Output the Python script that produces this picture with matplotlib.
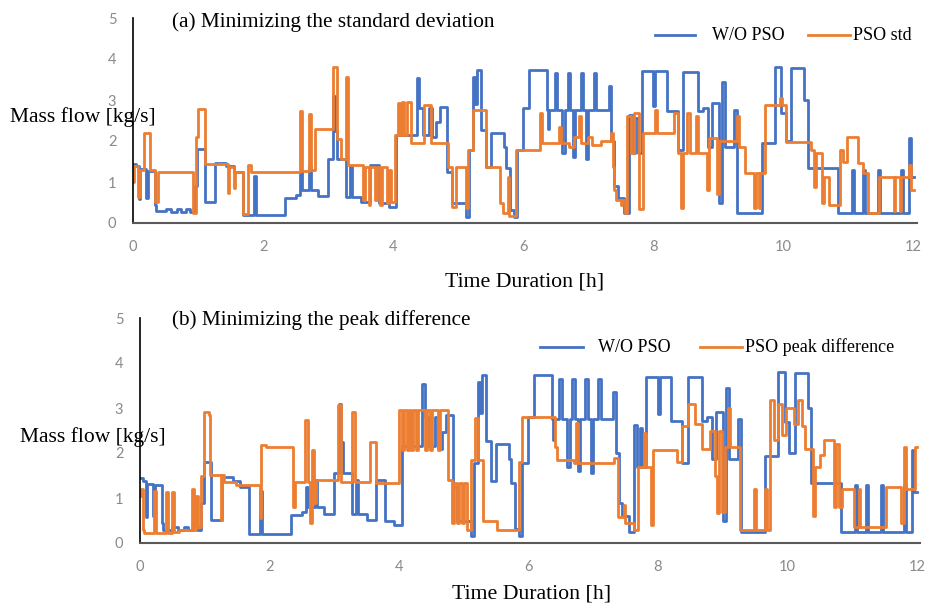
import matplotlib
matplotlib.use("Agg")
import matplotlib.pyplot as plt
from matplotlib.lines import Line2D

# W/O PSO (same profile in both panels): time [h], mass flow [kg/s]
t_base = [0.00, 0.05, 0.09, 0.11, 0.20, 0.23, 0.34, 0.36, 0.50, 0.58, 0.68, 0.74, 0.82, 0.88,
          0.95, 0.99, 1.10, 1.26, 1.43, 1.55, 1.69, 1.86, 1.89, 2.34, 2.50, 2.56, 2.60, 2.70,
          2.74, 2.85, 2.99, 3.07, 3.10, 3.14, 3.28, 3.34, 3.37, 3.50, 3.65, 3.78, 3.93, 4.04,
          4.36, 4.40, 4.46, 4.55, 4.60, 4.66, 4.72, 4.83, 4.90, 5.12, 5.16, 5.22, 5.26, 5.29,
          5.35, 5.42, 5.50, 5.70, 5.73, 5.80, 5.85, 5.90, 6.00, 6.08, 6.36, 6.38, 6.40, 6.48,
          6.52, 6.60, 6.64, 6.68, 6.72, 6.77, 6.80, 6.88, 6.92, 6.97, 7.00, 7.08, 7.12, 7.31,
          7.35, 7.40, 7.45, 7.55, 7.63, 7.68, 7.72, 7.76, 7.82, 8.00, 8.03, 8.20, 8.38, 8.46,
          8.68, 8.76, 8.84, 8.90, 9.01, 9.06, 9.10, 9.24, 9.28, 9.66, 9.86, 9.96, 10.03, 10.12,
          10.32, 10.37, 10.83, 11.05, 11.08, 11.22, 11.25, 11.45, 11.48, 11.80, 11.83, 11.93,
          11.96, 12.00]
v_base = [1.45, 1.38, 0.58, 1.32, 0.60, 1.28, 0.45, 0.30, 0.35, 0.28, 0.35, 0.28, 0.35, 0.28,
          0.90, 1.80, 0.52, 1.47, 1.38, 1.25, 0.20, 1.15, 0.20, 0.62, 0.68, 1.25, 0.80, 1.40,
          0.80, 0.65, 1.55, 3.10, 2.25, 1.55, 0.64, 1.40, 0.64, 0.52, 1.41, 0.48, 0.40, 2.15,
          3.53, 2.80, 2.15, 2.80, 2.10, 2.47, 2.84, 1.25, 0.48, 0.15, 1.78, 3.57, 2.90, 3.73,
          2.27, 1.37, 2.20, 1.86, 1.33, 0.32, 0.15, 1.78, 2.80, 3.73, 2.75, 2.30, 2.75, 3.65,
          2.75, 1.70, 2.75, 3.65, 2.75, 1.60, 2.75, 3.65, 2.75, 1.55, 2.75, 3.65, 2.75, 3.35,
          2.00, 0.90, 0.60, 0.25, 2.63, 1.70, 2.55, 1.70, 3.70, 2.86, 3.70, 2.72, 1.78, 3.68,
          2.72, 2.80, 1.86, 2.92, 0.48, 3.45, 1.86, 2.76, 0.24, 1.94, 3.81, 2.68, 2.00, 3.77,
          3.00, 1.33, 0.24, 1.30, 0.24, 1.30, 0.24, 1.30, 0.24, 1.30, 0.24, 2.07,
          1.13, 1.13]

# PSO std
t_std = [0.00, 0.02, 0.07, 0.10, 0.17, 0.26, 0.34, 0.38, 0.92, 0.97, 1.00, 1.11, 1.46, 1.48,
         1.55, 1.57, 1.69, 1.76, 1.82, 2.56, 2.60, 2.70, 2.74, 2.80, 3.07, 3.14, 3.20, 3.27,
         3.31, 3.53, 3.56, 3.62, 3.65, 3.72, 3.75, 3.80, 3.83, 3.90, 3.93, 3.97, 4.03, 4.07,
         4.10, 4.13, 4.17, 4.21, 4.28, 4.47, 4.58, 4.84, 4.90, 4.96, 5.12, 5.15, 5.22, 5.42,
         5.64, 5.68, 5.76, 5.78, 5.89, 6.25, 6.28, 6.55, 6.58, 6.70, 6.78, 6.86, 6.89, 7.00,
         7.05, 7.20, 7.34, 7.38, 7.40, 7.43, 7.50, 7.52, 7.56, 7.60, 7.66, 7.70, 7.78, 7.84,
         8.02, 8.05, 8.32, 8.37, 8.42, 8.46, 8.52, 8.56, 8.66, 8.68, 8.83, 8.86, 8.98, 9.00,
         9.28, 9.31, 9.40, 9.55, 9.57, 9.62, 9.64, 9.72, 9.95, 9.98, 10.03, 10.42, 10.46, 10.49,
         10.59, 10.62, 10.70, 10.86, 10.92, 10.97, 11.15, 11.22, 11.30, 11.46, 11.69, 11.71,
         11.79, 11.81, 11.93, 11.96, 12.00]
v_std = [1.00, 1.40, 0.64, 1.30, 2.19, 1.29, 0.52, 1.25, 0.25, 2.10, 2.77, 1.45, 0.72, 1.37,
         0.85, 1.25, 0.22, 1.41, 1.25, 2.72, 1.28, 2.67, 1.30, 2.30, 3.81, 2.05, 1.55, 3.57,
         1.41, 0.56, 1.37, 0.45, 1.37, 0.56, 1.37, 0.45, 1.37, 0.50, 1.29, 0.52, 2.15, 2.92,
         2.15, 2.95, 2.15, 2.96, 1.94, 2.88, 1.94, 1.37, 0.40, 1.37, 0.36, 1.78, 2.76, 1.37,
         0.48, 0.24, 1.12, 0.18, 1.78, 2.68, 1.95, 2.34, 1.95, 1.86, 2.10, 2.60, 1.95, 2.10,
         1.90, 2.00, 2.20, 1.37, 0.80, 0.56, 0.45, 0.56, 0.24, 2.60, 1.70, 2.68, 0.34, 2.20,
         2.76, 2.20, 2.68, 1.70, 0.36, 1.70, 2.68, 1.70, 2.60, 1.70, 0.80, 2.07, 0.70, 2.00,
         2.60, 1.85, 1.21, 0.36, 1.21, 0.36, 1.21, 2.88, 3.05, 2.88, 1.98, 1.78, 0.89, 1.70,
         0.48, 1.13, 0.45, 1.78, 1.50, 2.10, 1.46, 1.21, 0.24, 1.13, 0.30, 1.13,
         0.30, 1.13, 1.41, 0.80, 0.80]

# PSO peak difference
t_peak = [0.00, 0.02, 0.04, 0.06, 0.21, 0.24, 0.40, 0.43, 0.49, 0.52, 0.60, 0.80, 0.84, 0.86,
          0.89, 0.95, 0.99, 1.06, 1.08, 1.25, 1.27, 1.30, 1.49, 1.85, 1.87, 1.95, 2.36, 2.39,
          2.55, 2.59, 2.62, 2.66, 2.69, 2.72, 3.06, 3.10, 3.28, 3.32, 3.55, 3.64, 4.00, 4.05,
          4.08, 4.12, 4.15, 4.19, 4.22, 4.26, 4.30, 4.40, 4.43, 4.48, 4.51, 4.60, 4.63, 4.76,
          4.82, 4.85, 4.90, 4.93, 4.98, 5.01, 5.05, 5.12, 5.17, 5.22, 5.30, 5.52, 5.85, 5.90,
          6.41, 6.44, 6.70, 6.73, 6.76, 7.33, 7.38, 7.48, 7.50, 7.63, 7.70, 7.78, 7.82, 7.89,
          7.92, 8.30, 8.38, 8.47, 8.58, 8.68, 8.80, 8.88, 8.92, 8.95, 8.99, 9.03, 9.08, 9.12,
          9.27, 9.48, 9.51, 9.66, 9.69, 9.74, 9.80, 9.85, 9.92, 9.98, 10.10, 10.17, 10.22, 10.28,
          10.40, 10.43, 10.50, 10.56, 10.72, 10.76, 10.80, 10.84, 11.03, 11.10, 11.13, 11.52,
          11.75, 11.80, 11.84, 11.97, 12.00]
v_peak = [1.05, 1.20, 0.30, 0.22, 1.15, 0.22, 1.14, 0.22, 1.14, 0.25, 0.30, 1.20, 0.30, 1.05,
          0.35, 1.50, 2.92, 2.85, 1.51, 0.51, 1.51, 1.36, 1.29, 0.55, 2.18, 2.14, 0.81, 1.36,
          2.73, 1.36, 0.44, 2.07, 0.90, 1.40, 3.07, 1.36, 2.92, 1.36, 2.25, 1.33, 2.96, 2.07,
          2.96, 2.07, 2.96, 2.07, 2.96, 2.07, 2.96, 2.07, 2.96, 2.07, 2.96, 2.07, 2.96, 1.40,
          0.44, 1.33, 0.44, 1.33, 0.44, 1.33, 0.29, 1.84, 2.77, 1.84, 0.50, 0.29, 1.80, 2.81,
          2.14, 1.84, 1.77, 2.67, 1.77, 1.90, 0.58, 0.85, 0.45, 0.30, 1.69, 2.44, 1.70, 0.40,
          2.07, 1.80, 2.59, 3.10, 2.65, 2.10, 2.50, 1.50, 0.66, 2.50, 0.70, 2.14, 3.00, 2.14,
          0.29, 1.21, 0.29, 1.21, 0.29, 3.18, 2.30, 3.10, 2.40, 3.00, 2.65, 3.18, 2.60, 2.10,
          0.60, 1.70, 1.95, 2.29, 0.80, 2.20, 0.80, 1.20, 0.36, 1.20, 0.36, 1.25,
          0.44, 2.14, 1.20, 2.14, 2.14]

panels = [
    ("(a) Minimizing the standard deviation", "PSO std", t_std, v_std),
    ("(b) Minimizing the peak difference", "PSO peak difference", t_peak, v_peak),
]

BLUE = "#4472C4"
ORANGE = "#ED7D31"
SERIF = "Liberation Serif"
W, H = 932, 605


def fx(px):
    return px / W


def fy(py):
    return 1 - py / H


fig = plt.figure(figsize=(9.32, 6.05), dpi=100)

boxes = [(fx(133), fy(223), 784 / W, 205 / H),
         (fx(140), fy(543), 780 / W, 225 / H)]
title_x = [172, 172]
title_y = [22, 320]
ylabel_pos = [(10, 117), (20, 437)]
xlabel_pos = [(525, 282), (532, 594)]
# legend: (blue handle start, end, text), (orange handle start, end, text), row y
legend_px = [((655, 695, 712), (808, 850, 853), 35),
             ((540, 583, 598), (700, 742, 745), 347)]

for i, (title, name, t, v) in enumerate(panels):
    ax = fig.add_axes(boxes[i])
    ax.step(t_base, v_base, where="post", color=BLUE, lw=2.0)
    ax.step(t, v, where="post", color=ORANGE, lw=2.0)
    ax.set_xlim(0, 12.05)
    ax.set_ylim(0, 5)
    ax.set_xticks([0, 2, 4, 6, 8, 10, 12])
    ax.set_yticks([0, 1, 2, 3, 4, 5])
    ax.tick_params(length=0, labelsize=10.5, labelcolor="#8a8a8a", pad=12)
    for lab in ax.get_xticklabels() + ax.get_yticklabels():
        lab.set_family("Lato")
    ax.spines["top"].set_visible(False)
    ax.spines["right"].set_visible(False)
    ax.spines["left"].set_color("black")
    ax.spines["left"].set_linewidth(1.2)
    ax.spines["bottom"].set_color("#595959")
    ax.spines["bottom"].set_linewidth(1.5)
    ax.patch.set_alpha(0)

    fig.text(fx(title_x[i]), fy(title_y[i]), title, family=SERIF,
             fontsize=15.3, ha="left", va="center")

    (b0, b1, bt), (o0, o1, ot), ly = legend_px[i]
    for (h0, h1, tx), col, lab in [((b0, b1, bt), BLUE, "W/O PSO"),
                                    ((o0, o1, ot), ORANGE, name)]:
        fig.add_artist(Line2D([fx(h0), fx(h1)], [fy(ly), fy(ly)], color=col, lw=2.0,
                              transform=fig.transFigure))
        fig.text(fx(tx), fy(ly), lab, family=SERIF, fontsize=13,
                 ha="left", va="center")

    fig.text(fx(ylabel_pos[i][0]), fy(ylabel_pos[i][1]), "Mass flow [kg/s]",
             family=SERIF, fontsize=15.5, ha="left", va="center")
    fig.text(fx(xlabel_pos[i][0]), fy(xlabel_pos[i][1]), "Time Duration [h]",
             family=SERIF, fontsize=15.7, ha="center", va="center")

fig.savefig("out.png", dpi=100)
